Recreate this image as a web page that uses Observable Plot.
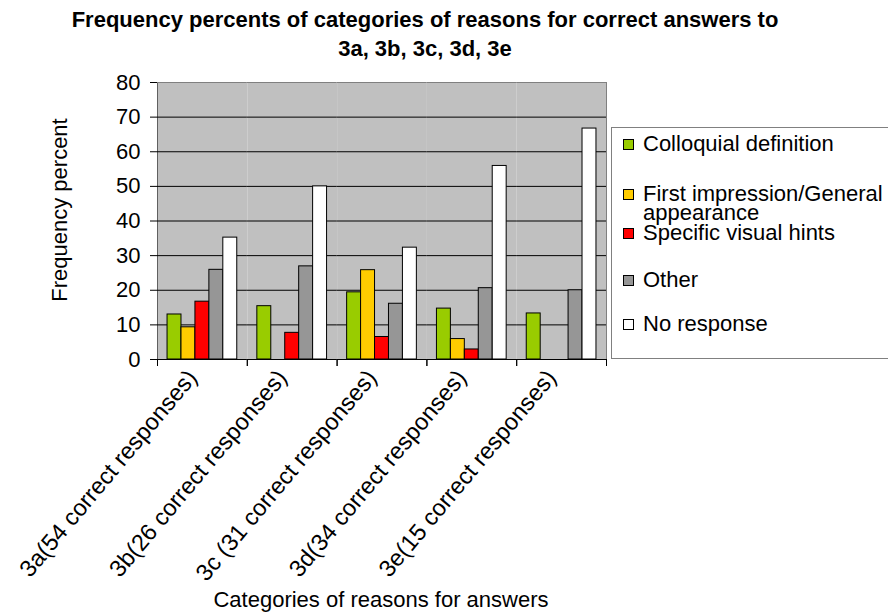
<!DOCTYPE html>
<html>
<head>
<meta charset="utf-8">
<script src="https://cdn.jsdelivr.net/npm/d3@7"></script>
<script src="https://cdn.jsdelivr.net/npm/@observablehq/plot@0.6"></script>
<style>
  body { margin: 0; background: #fff; font-family: "Liberation Sans", Arial, sans-serif; color: #000; }
  #wrap { position: relative; width: 888px; height: 615px; overflow: hidden; background: #fff; }
  #title { position: absolute; left: 0; top: 6px; width: 850px; text-align: center; font-weight: bold; font-size: 22px; line-height: 28.5px; }
  #chart { position: absolute; left: 0; top: 56px; }
  #ylabel { position: absolute; left: -90px; top: 199px; width: 300px; height: 22px; line-height: 22px; font-size: 22px; text-align: center; transform: rotate(-90deg); transform-origin: 150px 11px; }
  #xlabel { position: absolute; left: 131px; top: 589px; width: 500px; line-height: 22px; font-size: 22px; text-align: center; }
  #legend { position: absolute; left: 611px; top: 127px; width: 300px; height: 232px; border: 1px solid #808080; box-sizing: border-box; background: #fff; }
  .item { position: absolute; left: 0; font-size: 22px; line-height: 19px; }
  .sw { position: absolute; left: 11px; width: 11px; height: 11px; border: 1px solid #000; box-sizing: border-box; }
  .lab { position: absolute; left: 31px; width: 245px; white-space: normal; }
</style>
</head>
<body>
<div id="wrap">
  <div id="title">Frequency percents of categories of reasons for correct answers to<br>3a, 3b, 3c, 3d, 3e</div>
  <div id="chart"></div>
  <div id="ylabel">Frequency percent</div>
  <div id="xlabel">Categories of reasons for answers</div>
  <div id="legend"></div>
</div>
<script>
// ---- data ----
const categories = [
  "3a(54 correct responses)",
  "3b(26 correct responses)",
  "3c (31 correct responses)",
  "3d(34 correct responses)",
  "3e(15 correct responses)"
];
const series = [
  "Colloquial definition",
  "First impression/General appearance",
  "Specific visual hints",
  "Other",
  "No response"
];
const seriesColors = ["#99CC00", "#FFCC00", "#FF0000", "#969696", "#FFFFFF"];
const colloquial      = [13.0, 15.4, 19.4, 14.7, 13.3];
const firstImpression = [9.3, 0, 25.8, 5.9, 0];
const visualHints     = [16.7, 7.7, 6.5, 2.9, 0];
const other           = [25.9, 26.9, 16.1, 20.6, 20.0];
const noResponse      = [35.2, 50.0, 32.3, 55.9, 66.7];
const yTicks = [0, 10, 20, 30, 40, 50, 60, 70, 80];

// ---- layout ----
const W = 888, H = 559, mL = 157, mR = 282, mT = 26, mB = 256;
const facetW = (W - mL - mR) / categories.length;
const legendBaselines = [23, 73, 112, 159, 203];

const valuesBySeries = [colloquial, firstImpression, visualHints, other, noResponse];
const table = categories.flatMap((c, i) =>
  series.map((s, j) => ({category: c, series: s, value: valuesBySeries[j][i]}))
).filter(d => d.value > 0);

const chart = Plot.plot({
  width: W, height: H,
  marginTop: mT, marginBottom: mB, marginLeft: mL, marginRight: mR,
  style: {fontFamily: "Liberation Sans, Arial, sans-serif", fontSize: "22px", color: "#000", background: "transparent", overflow: "visible"},
  fx: {domain: categories, padding: 0, round: false, axis: null, label: null},
  x: {domain: series, paddingInner: 0, paddingOuter: 0.72, round: false, axis: null},
  y: {domain: [0, 80], ticks: yTicks, tickSize: 7, tickPadding: 10, label: null, line: true},
  color: {domain: series, range: seriesColors},
  marks: [
    Plot.frame({fill: "#C0C0C0"}),
    Plot.gridY(yTicks.filter(t => t > 0 && t < 80), {stroke: "#000", strokeOpacity: 1}),
    Plot.ruleY([80], {stroke: "#808080"}),
    Plot.barY(table, {fx: "category", x: "series", y: "value", fill: "series", stroke: "#000", strokeWidth: 1}),
    Plot.frame({anchor: "right", stroke: "#808080", facetAnchor: "right"}),
    Plot.ruleY([0], {stroke: "#000"}),
    Plot.axisFx({anchor: "bottom", tickSize: 7, tickFormat: () => "", label: null, dx: -facetW / 2}),
    Plot.axisFx([categories[categories.length - 1]], {anchor: "bottom", tickSize: 7, tickFormat: () => "", label: null, dx: facetW / 2}),
    Plot.axisFx({anchor: "bottom", tickSize: 0, tickPadding: 12, tickRotate: -50, label: null, fontSize: 23.5, dx: -10, dy: 2})
  ]
});
document.getElementById("chart").appendChild(chart);

// ---- legend ----
const legend = document.getElementById("legend");
series.forEach((s, i) => {
  const item = document.createElement("div");
  item.className = "item";
  item.style.top = (legendBaselines[i] - 17) + "px";
  const sw = document.createElement("div");
  sw.className = "sw";
  sw.style.background = seriesColors[i];
  sw.style.top = "5px";
  const lab = document.createElement("div");
  lab.className = "lab";
  lab.textContent = s;
  item.appendChild(sw);
  item.appendChild(lab);
  legend.appendChild(item);
});
</script>
</body>
</html>
